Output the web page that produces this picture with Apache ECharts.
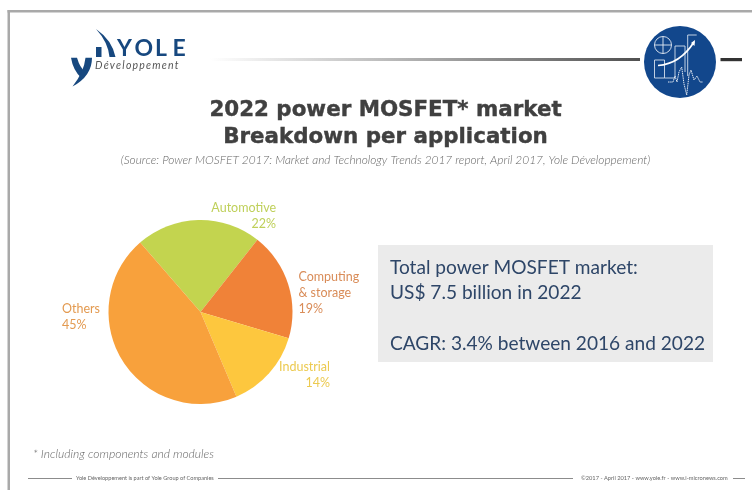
<!DOCTYPE html>
<html>
<head>
<meta charset="utf-8">
<style>html,body{margin:0;padding:0;background:#fff}#chart{width:752px;height:490px}</style>
<script src="https://cdn.jsdelivr.net/npm/echarts@6/dist/echarts.min.js"></script>
</head>
<body>
<div id="chart"></div>
<script>
// Market share per application, in percent, clockwise from the top-left slice
const applications = ['Automotive', 'Computing\n& storage', 'Industrial', 'Others'];
const sharePercent = [22, 19, 14, 45];
const sliceColors = ['#c3d44f', '#f08238', '#fdc73e', '#f8a13c'];
const labelColors = ['#bfd05a', '#d98c58', '#ecca50', '#e39a50'];

const titleLines = ['2022 power MOSFET* market', 'Breakdown per application'];
const sourceNote = '(Source: Power MOSFET 2017: Market and Technology Trends 2017 report, April 2017, Yole Développement)';
const footNote = '* Including components and modules';
const calloutLines = ['Total power MOSFET market:', 'US$ 7.5 billion in 2022', 'CAGR: 3.4% between 2016 and 2022'];
const footerLeft = 'Yole Développement is part of Yole Group of Companies';
const footerRight = '©2017 - April 2017 - www.yole.fr - www.i-micronews.com';

const FONT = 'Lato, "Open Sans", sans-serif';
const TITLE_FONT = '"DejaVu Sans", sans-serif';
const NAVY = '#12478c';
const labelSpots = [
  { x: 276, y: 216, align: 'right' },
  { x: 298.5, y: 293, align: 'left' },
  { x: 330, y: 375, align: 'right' },
  { x: 62, y: 317, align: 'left' }
];

const text = (x, y, str, size, color, extra) => ({
  type: 'text', x, y,
  style: Object.assign({ text: str, fontFamily: FONT, fontSize: size, fill: color,
    align: 'left', verticalAlign: 'middle' }, extra || {})
});
const rule = (x1, x2, y, color, width) => ({
  type: 'line', shape: { x1, y1: y, x2, y2: y }, style: { stroke: color, lineWidth: width }
});

// The graphic component only knows registered shapes, so each outline gets its own class
let glyphCount = 0;
const pathEl = (d, style) => {
  const name = 'glyph' + glyphCount++;
  echarts.graphic.registerShape(name, echarts.graphic.extendPath(d, {}));
  return { type: name, style };
};

// Company mark: three navy swooshes with the spaced wordmark beside them
const logo = [
  pathEl('M71,57.7 L77,57.7 Q80,68 85.5,72 L81,77.5 Q73,70 71,57.7Z', { fill: '#17487f' }),
  pathEl('M92,57.7 L85.5,57.7 Q84,72 72.5,86.5 Q92,76 92,57.7Z', { fill: '#17487f' }),
  pathEl('M96,29 Q112,40 115.5,57 L109.5,57 Q108,42 96,29Z', { fill: '#17487f' }),
  pathEl('M96,47 h5.5 v10 h-5.5z', { fill: '#17487f' }),
  text(117, 49, 'Y', 23, '#17487f', { fontWeight: 700 }),
  text(134.5, 49, 'O', 23, '#17487f', { fontWeight: 700 }),
  text(155, 49, 'L', 23, '#17487f', { fontWeight: 700 }),
  text(172.5, 49, 'E', 23, '#17487f', { fontWeight: 700 }),
  text(95, 66, 'D\u2009é\u2009v\u2009e\u2009l\u2009o\u2009p\u2009p\u2009e\u2009m\u2009e\u2009n\u2009t', 10.5, '#555', { fontStyle: 'italic' })
];

// Round badge with chart-like line art
const badge = [
  { type: 'circle', shape: { cx: 680, cy: 62, r: 36 }, style: { fill: NAVY } },
  { type: 'circle', shape: { cx: 663, cy: 45, r: 8.5 }, style: { fill: null, stroke: '#e4ebf4', lineWidth: 0.9 } },
  pathEl('M654.5,45 H671.5 M663,36.5 V53.5', { fill: null, stroke: '#e4ebf4', lineWidth: 0.9 }),
  pathEl('M654.5,60 H664.5 V78 H654.5Z M664.5,78 H675 V46 H685 V72 M687.7,76 V35 H696.7', { fill: null, stroke: '#d5dfec', lineWidth: 0.9 }),
  pathEl('M658,65.5 Q680,64 694,42', { fill: null, stroke: '#ffffff', lineWidth: 1.7 }),
  pathEl('M691,43 L695,40 L694.5,46Z', { fill: '#ffffff' }),
  pathEl('M668,82 L673,82 L675,76 L677,82 L679,72 L681.7,67 L684,84 L686.7,95 L689,75 L691,70 L694,80 L697,76 L700,82 L703,82', { fill: null, stroke: '#e2e9f3', lineWidth: 1, lineDash: [1.5, 0.7] })
];

const lineGradient = new echarts.graphic.LinearGradient(0, 0, 1, 0, [
  { offset: 0, color: '#ffffff' },
  { offset: 0.4, color: '#bdbdbd' },
  { offset: 1, color: '#505050' }
]);

const chart = echarts.init(document.getElementById('chart'), null, { renderer: 'canvas' });
chart.setOption({
  animation: false,
  backgroundColor: '#ffffff',
  series: [{
    type: 'pie',
    center: [200.5, 312],
    radius: [0, 92],
    startAngle: 131,
    clockwise: true,
    silent: true,
    avoidLabelOverlap: false,
    data: applications.map((name, i) => ({
      name,
      value: sharePercent[i],
      itemStyle: { color: sliceColors[i] },
      label: { color: labelColors[i] }
    })),
    label: {
      show: true,
      formatter: (p) => p.name + '\n' + p.value + '%',
      fontFamily: FONT,
      fontSize: 12.5,
      lineHeight: 16
    },
    labelLine: { show: false },
    labelLayout: (p) => {
      const s = labelSpots[p.dataIndex];
      return { x: s.x, y: s.y, align: s.align, verticalAlign: 'middle' };
    }
  }],
  graphic: [
    { type: 'rect', shape: { x: 7.5, y: 10, width: 2.5, height: 480 }, style: { fill: '#a9a9a9' } },
    { type: 'rect', shape: { x: 7.5, y: 10, width: 744.5, height: 2.5 }, style: { fill: '#a9a9a9' } },
    { type: 'rect', shape: { x: 210, y: 58, width: 430, height: 3 }, style: { fill: lineGradient } },
    { type: 'rect', shape: { x: 720.5, y: 58, width: 21.5, height: 3.2 }, style: { fill: '#333333' } },
    ...logo,
    ...badge,
    text(385.5, 110, titleLines[0], 21.4, '#404040', { fontFamily: TITLE_FONT, fontWeight: 700, align: 'center', stroke: '#404040', lineWidth: 0.4 }),
    text(385.5, 137, titleLines[1], 21.4, '#404040', { fontFamily: TITLE_FONT, fontWeight: 700, align: 'center', stroke: '#404040', lineWidth: 0.4 }),
    text(385.5, 160, sourceNote, 11.9, '#666666', { fontStyle: 'italic', fontWeight: 300, align: 'center' }),
    { type: 'rect', shape: { x: 378, y: 245, width: 335, height: 117 }, style: { fill: '#ebebeb' } },
    text(390, 267.5, calloutLines[0], 19.1, '#2e4668'),
    text(390, 293, calloutLines[1], 19.1, '#2e4668'),
    text(390, 343.5, calloutLines[2], 19.1, '#2e4668'),
    text(33, 454, footNote, 12.1, '#666666', { fontStyle: 'italic', fontWeight: 300 }),
    rule(28, 72, 478.5, '#8c8c8c', 1),
    text(76, 478, footerLeft, 5.6, '#666666'),
    rule(218, 573, 478.5, '#8c8c8c', 1),
    text(581, 478, footerRight, 5.7, '#666666'),
    rule(733, 745, 478.5, '#8c8c8c', 1)
  ]
});
</script>
</body>
</html>
